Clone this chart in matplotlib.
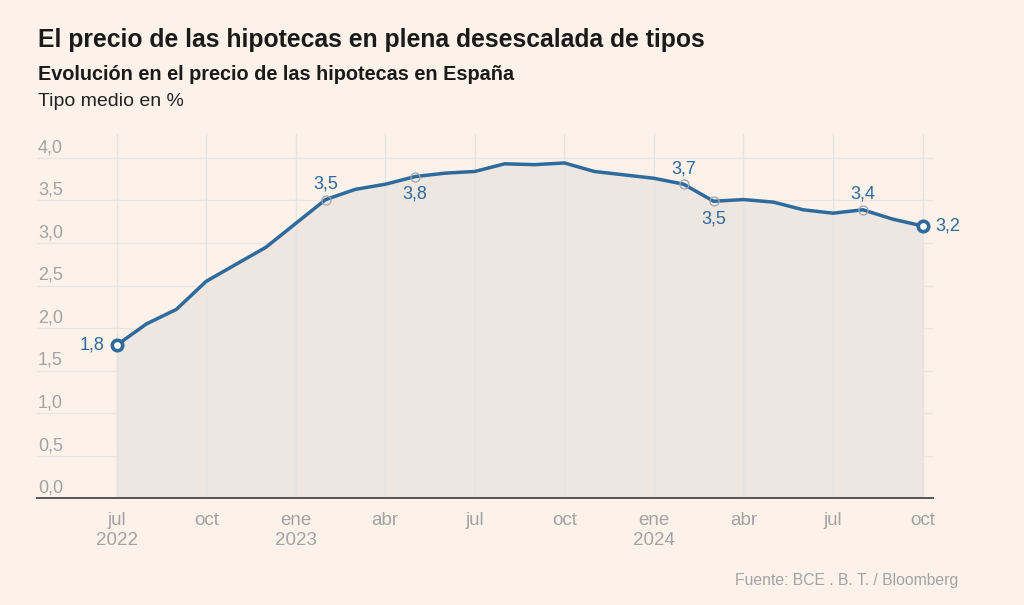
import numpy as np
import matplotlib.pyplot as plt

# datos: tipo medio de las hipotecas, jul 2022 - oct 2024
meses = list(range(28))
tipos = [1.80, 2.05, 2.22, 2.55, 2.75, 2.95, 3.23, 3.51, 3.63, 3.69,
         3.78, 3.82, 3.84, 3.93, 3.92, 3.94, 3.84, 3.80, 3.76, 3.69,
         3.49, 3.51, 3.48, 3.39, 3.35, 3.39, 3.28, 3.20]
tick_pos = [0, 3, 6, 9, 12, 15, 18, 21, 24, 27]
tick_labels = ['jul\n2022', 'oct', 'ene\n2023', 'abr', 'jul', 'oct',
               'ene\n2024', 'abr', 'jul', 'oct']
y_ticks = [0, 0.5, 1, 1.5, 2, 2.5, 3, 3.5, 4]
# (indice, texto, encima?)
etiquetas = [(7, '3,5', True), (10, '3,8', False), (19, '3,7', True),
             (20, '3,5', False), (25, '3,4', True)]

fuente = 'Liberation Sans'
fondo = '#fcf2ea'
azul = '#2f6a9c'
gris = '#a3a3a3'

fig = plt.figure(figsize=(10.24, 6.05), dpi=100, facecolor=fondo)
W, H = 1024, 605
ax = fig.add_axes([37 / W, 1 - 498.4 / H, (933 - 37) / W, (498.4 - 134) / H])
ax.set_facecolor(fondo)
ax.set_xlim(-2.67, 27.35)
ax.set_ylim(0, 4.28)

ax.fill_between(meses, tipos, 0, color='#ede6e1', zorder=1)
for y in y_ticks:
    ax.axhline(y, color='#ebe5e1', lw=1, zorder=0.5)
    ax.text(0.001, y + 0.12, f'{y:.1f}'.replace('.', ','), transform=ax.get_yaxis_transform(),
            fontsize=13, color=gris, family=fuente, va='center', ha='left')
for x in tick_pos:
    ax.axvline(x, color='#e6e3e3', lw=1, zorder=1.5)

ax.plot(meses, tipos, color=azul, lw=2.5, zorder=3, solid_capstyle='round')

# marcadores pequeños en los puntos etiquetados
for i, txt, arriba in etiquetas:
    ax.plot(meses[i], tipos[i], 'o', ms=6.5, mfc='none', mec='#9aa7b3', mew=0.9, zorder=4)
    dy = 11 if arriba else -12.5
    ax.annotate(txt, (meses[i], tipos[i]), xytext=(0, dy), textcoords='offset points',
                ha='center', va='center', fontsize=13, color=azul, family=fuente)

# extremos
for i in (0, len(meses) - 1):
    ax.plot(meses[i], tipos[i], 'o', ms=7.5, mfc='white', mec=azul, mew=2.6, zorder=5)
ax.annotate('1,8', (meses[0], tipos[0]), xytext=(-9, 0), textcoords='offset points',
            ha='right', va='center', fontsize=13, color=azul, family=fuente)
ax.annotate('3,2', (meses[-1], tipos[-1]), xytext=(9, 0), textcoords='offset points',
            ha='left', va='center', fontsize=13, color=azul, family=fuente)

for s in ['top', 'right', 'left']:
    ax.spines[s].set_visible(False)
ax.spines['bottom'].set_color('#555555')
ax.spines['bottom'].set_linewidth(1.4)
ax.spines['bottom'].set_zorder(6)
ax.set_yticks([])
ax.set_xticks(tick_pos)
ax.set_xticklabels(tick_labels, fontsize=13.5, color=gris, family=fuente, linespacing=1.2)
ax.tick_params(axis='x', length=0, pad=10)

fig.text(38 / W, 1 - 40 / H, 'El precio de las hipotecas en plena desescalada de tipos',
         fontsize=17.8, fontweight='bold', family=fuente, color='#1a1a1a', va='center')
fig.text(38 / W, 1 - 75 / H, 'Evolución en el precio de las hipotecas en España',
         fontsize=14.3, fontweight='bold', family=fuente, color='#1a1a1a', va='center')
fig.text(38 / W, 1 - 101 / H, 'Tipo medio en %',
         fontsize=14, family=fuente, color='#222222', va='center')
fig.text(958 / W, 1 - 580 / H, 'Fuente: BCE . B. T. / Bloomberg',
         fontsize=11.3, family=fuente, color=gris, ha='right', va='center')

fig.savefig('out.png', dpi=100, facecolor=fondo)
